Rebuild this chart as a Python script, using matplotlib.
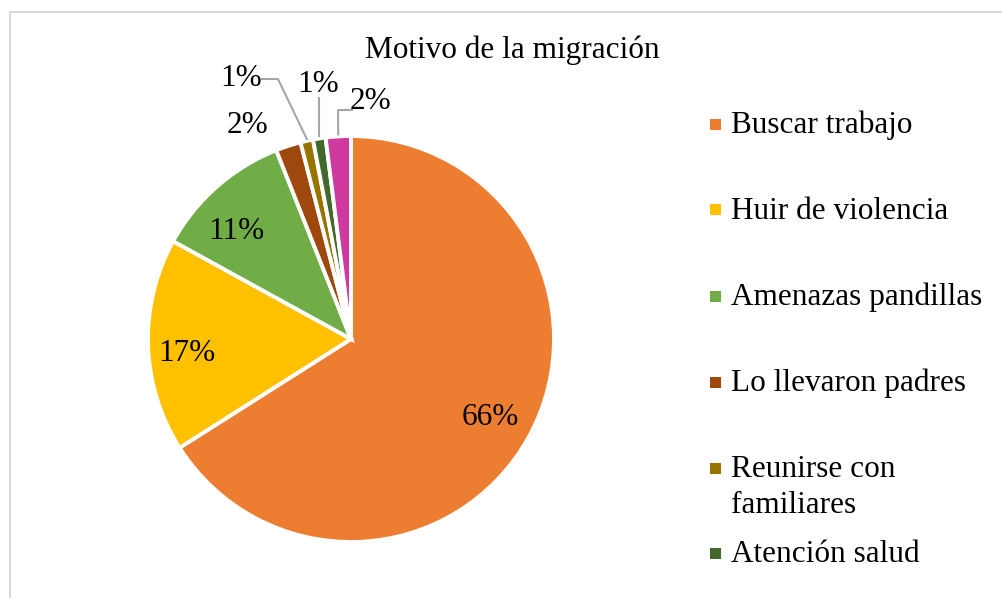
import matplotlib
matplotlib.use("Agg")
import matplotlib.pyplot as plt
import numpy as np

title = "Motivo de la migración"
categories = ["Buscar trabajo", "Huir de violencia", "Amenazas pandillas",
              "Lo llevaron padres", "Reunirse con\nfamiliares", "Atención salud", "Otros"]
values = [66, 17, 11, 2, 1, 1, 2]
colors = ["#ED7D31", "#FFC000", "#70AD47", "#9E480E", "#997300", "#43682B", "#CF3A9E"]

plt.rcParams['font.family'] = ['Liberation Serif', 'DejaVu Serif']
FS = 22.5

W, H = 1002, 598
fig = plt.figure(figsize=(W / 100, H / 100), dpi=100)

# light gray frame (cropped chart area)
fig.patches.append(plt.Rectangle((9.5 / W, -0.1), 1.2, (H - 11.5) / H + 0.1,
                                 transform=fig.transFigure, fill=False,
                                 edgecolor="#D9D9D9", linewidth=1.5))

cx, cy, R = 351, 339, 203
ax = fig.add_axes([(cx - R) / W, (H - cy - R) / H, 2 * R / W, 2 * R / H])

wedges, _ = ax.pie(values, colors=colors, startangle=90, counterclock=False,
                   radius=1.0, wedgeprops=dict(edgecolor="white", linewidth=2.8))
ax.set_xlim(-1, 1)
ax.set_ylim(-1, 1)
ax.set_aspect("equal")
ax.axis("off")

# label positions (data coords)
label_pos = [(0.685, -0.389), (-0.808, -0.069), (-0.567, 0.532),
             (-0.512, 1.054), (-0.542, 1.281), (-0.163, 1.256), (0.094, 1.172)]
for v, (x, y) in zip(values, label_pos):
    ax.text(x, y, f"{v}%", ha="center", va="center", fontsize=FS, clip_on=False)

# leader lines for small slices
def edge_point(w):
    ang = np.deg2rad((w.theta1 + w.theta2) / 2)
    return np.cos(ang), np.sin(ang)

lc = "#A6A6A6"
# olive
ex, ey = edge_point(wedges[4])
ax.plot([(262 - cx) / R, (278 - cx) / R, ex], [(cy - 79) / R, (cy - 79) / R, ey + 0.01],
        color=lc, lw=1.5, clip_on=False)
# dark green
ex, ey = edge_point(wedges[5])
ax.plot([ex, ex], [(cy - 98) / R, ey + 0.01], color=lc, lw=1.5, clip_on=False)
# magenta
ex, ey = edge_point(wedges[6])
ax.plot([(352 - cx) / R, (338 - cx) / R, ex], [(cy - 110) / R, (cy - 110) / R, ey + 0.01],
        color=lc, lw=1.5, clip_on=False)

fig.text(512 / W, 1 - 50 / H, title, ha="center", va="center", fontsize=FS)

# legend (only the entries visible within the chart area)
leg_y = [124, 210, 296, 382, 468, 553]
for cat, col, y in zip(categories, colors, leg_y):
    fig.patches.append(plt.Rectangle((709.5 / W, 1 - (y + 5.5) / H), 11.5 / W, 11 / H,
                                     transform=fig.transFigure, facecolor=col,
                                     edgecolor="none"))
    fig.text(731 / W, 1 - (y - 13) / H, cat, ha="left", va="top", fontsize=FS,
             linespacing=1.3)

fig.savefig("out.png", dpi=100)
